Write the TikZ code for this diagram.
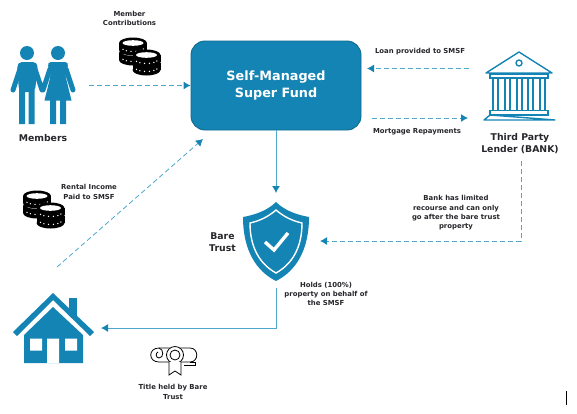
\documentclass[tikz,border=0pt]{standalone}
\usepackage{fontspec}
\setsansfont{DejaVu Sans}
\usetikzlibrary{arrows.meta,positioning,calc}
\definecolor{fundblue}{HTML}{1484B4}
\definecolor{fundedge}{HTML}{0F6A8F}
\definecolor{flowblue}{HTML}{4DA8CC}
\definecolor{inkgrey}{HTML}{26262B}
\newcommand{\onecoin}[2]{%
\fill[black] (#1,#2+7) ellipse[x radius=14, y radius=5.5];
\fill[black] (#1-14,#2) rectangle (#1+14,#2+7);
\fill[black] (#1,#2) ellipse[x radius=14, y radius=5.5];
\fill[white] (#1,#2) ellipse[x radius=10.5, y radius=2.8];
\foreach \a in {25,50,...,155} \fill[white] ({#1+11.5*cos(\a)},{#2+4.2+4.3*sin(\a)}) circle[radius=.75];}
\begin{document}
\begin{tikzpicture}[x=1pt, y=-1pt, font=\sffamily\bfseries, >={Latex[length=7pt,width=8pt,color=fundblue]},
hub/.style={draw=fundedge, line width=.9pt, fill=fundblue, rounded corners=14pt, minimum width=170pt, minimum height=89pt, align=center, text=white, font=\sffamily\bfseries\fontsize{12.8}{17}\selectfont},
lbl/.style={align=center, text=inkgrey, inner sep=0pt, font=\sffamily\bfseries\fontsize{6.9}{9.4}\selectfont},
biglbl/.style={align=center, text=inkgrey, inner sep=0pt, font=\sffamily\bfseries\fontsize{9.3}{12.4}\selectfont},
flow/.style={->, draw=flowblue, line width=1pt},
dashflow/.style={flow, dash pattern=on 5pt off 3pt},
coins/.pic={\onecoin{13}{17}\onecoin{13}{7}\onecoin{26.5}{27}\onecoin{26.5}{19}},
people/.pic={
\fill[fundblue] (27,53) circle[radius=7] (58,53) circle[radius=7];
\draw[fundblue, line width=5pt, line cap=round] (13,90)--(20,69) (35,69)--(42,90) (50,69)--(43,90) (66,69)--(73,90);
\fill[fundblue, rounded corners=5pt] (17,62)--(38,62)--(35,92)--(19,92)--cycle;
\fill[fundblue] (19,88) rectangle (25,124) (28.5,88) rectangle (34.5,124);
\fill[fundblue, rounded corners=4pt] (47,62)--(69,62)--(65,75)--(66,80)--(50,80)--(51,75)--cycle;
\fill[fundblue] (51,74)--(65,74)--(71.5,100.5)--(44.5,100.5)--cycle;
\fill[fundblue] (50,98) rectangle (56,124) (60,98) rectangle (66,124);},
bank/.pic={
\draw[fundblue, line width=1.4pt, line join=round] (519,52)--(486,73)--(552,73)--cycle (519,63) circle[radius=3];
\draw[fundblue, line width=1.4pt] (490,74) rectangle (548,78) (490,110.5) rectangle (548,115);
\draw[fundblue, line width=1.4pt, line join=round] (490,115)--(484,120)--(555,120)--cycle;
\foreach \c in {493,505,517,528,540} \draw[fundblue, line width=1.2pt] (\c,78) rectangle (\c+5,110.5);},
shield/.pic={
\fill[fundblue] (276,202) .. controls (285,211) and (298,215) .. (309,217) .. controls (309,250) and (296,271) .. (276,281) .. controls (256,271) and (243,250) .. (243,217) .. controls (254,215) and (267,211) .. (276,202) -- cycle;
\draw[white, line width=1.4pt] (276,210) .. controls (284,217) and (293,221) .. (302,223) .. controls (302,248) and (292,264) .. (276,273) .. controls (260,264) and (250,248) .. (250,223) .. controls (259,221) and (268,217) .. (276,210) -- cycle;
\draw[white, line width=3.4pt] (265,242)--(274,250)--(288,233);},
house/.pic={
\fill[fundblue] (69,298) rectangle (77,316);
\fill[white] (53,300)--(89,336)--(17,336)--cycle;
\fill[fundblue] (13,332)--(53,293)--(94,332)--(90,336)--(53,300)--(17,336)--cycle;
\fill[fundblue] (53,307)--(83,335)--(83,363)--(24,363)--(24,335)--cycle;
\fill[white] (30,338.5) rectangle (42,350.5) (47,338.5) rectangle (59,363) (65,338.5) rectangle (77,350.5);},
diploma/.pic={
\draw[black, line width=.8pt, line join=round] (159,348) -- (190,348) .. controls (199,348) and (199,362) .. (190,362) -- (159,362) .. controls (148,362) and (148,348) .. (159,348) -- cycle;
\draw[black, line width=.8pt] (159,348) .. controls (164,349) and (164,358) .. (159,358) .. controls (156,358) and (155,353) .. (158,352);
\draw[black, line width=.8pt] (190,362) -- (195,362) -- (195,365) -- (184,365);
\fill[white] (175,355) circle[radius=9];
\draw[black, line width=.8pt] (175,355) circle[radius=8.5] (175,355) circle[radius=5];
\fill[white] (169,362) -- (181,362) -- (181,375) -- (175,371) -- (169,375) -- cycle;
\draw[black, line width=.8pt] (169,362) -- (169,375) -- (175,371) -- (181,375) -- (181,362);}]
\useasboundingbox (0,0) rectangle (577,413);
\pic {people};
\pic {bank};
\pic {shield};
\pic {house};
\pic {diploma};
\pic at (120,36) {coins};
\pic at (24,189) {coins};
\node[hub] (fund) at (276,85.5) {Self-Managed\\Super Fund};
% free ends at the icons
\coordinate (membersout) at (89,85.5);
\coordinate (bankloan) at (469,68.5);
\coordinate (bankrepay) at (468,118);
\coordinate (fundrepay) at (372,118);
\coordinate (fundloan) at (367,68.5);
\coordinate (shieldtop) at (276,193);
\coordinate (bankdown) at (521,161);
\coordinate (shieldright) at (320,241);
\coordinate (shieldout) at (276,288);
\coordinate (housein) at (101,328);
\coordinate (houseout) at (57,267);
\coordinate (fundin) at (203,139);
\coordinate (blackA) at (566.5,391);
\coordinate (blackB) at (566.5,405);
\node[biglbl] (members) at (43,138) {Members};
\node[biglbl] (lender) at (520,143.5) {Third Party\\Lender (BANK)};
\node[biglbl] (baretrust) at (222.5,242) {Bare\\Trust};
\node[lbl] (contrib) at (129.5,18.5) {Member\\Contributions};
\node[lbl] (rental) at (89,192) {Rental Income\\Paid to SMSF};
\node[lbl] (loan) at (420,52) {Loan provided to SMSF};
\node[lbl] (repay) at (417,132) {Mortgage Repayments};
\node[lbl] (recourse) at (456,213) {Bank has limited\\recourse and can only\\go after the bare trust\\property};
\node[lbl] (holds) at (326,294) {Holds (100\%)\\property on behalf of\\the SMSF};
\node[lbl] (title) at (173,392) {Title held by Bare\\Trust};
\draw[dashflow] (membersout) -- (fund.west |- membersout);
\draw[dashflow] (bankloan) -- (fundloan);
\draw[dashflow] (fundrepay) -- (bankrepay);
\draw[flow] (fund.south) -- (shieldtop);
\draw[dashflow] (bankdown) |- (shieldright);
\draw[flow] (shieldout) |- (housein);
\draw[dashflow, line width=.8pt] (houseout) -- (fundin);
\draw[black, line width=.9pt] (blackA) -- (blackB);
\end{tikzpicture}
\end{document}
